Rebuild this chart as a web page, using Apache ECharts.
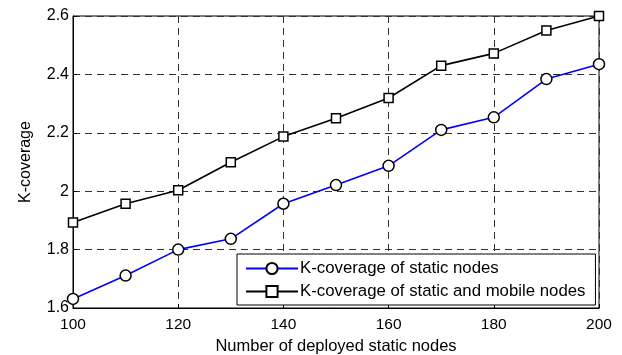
<!DOCTYPE html>
<html><head><meta charset="utf-8">
<script src="https://cdn.jsdelivr.net/npm/echarts@6/dist/echarts.min.js"></script>
<style>html,body{margin:0;padding:0;background:#fff}#c{width:622px;height:355px}</style>
</head><body><div id="c"></div>
<script>
const nodes = [100,110,120,130,140,150,160,170,180,190,200];
const staticCov = [1.631,1.711,1.80,1.837,1.957,2.021,2.087,2.21,2.253,2.384,2.435];
const mixedCov = [1.893,1.957,2.003,2.099,2.187,2.25,2.319,2.43,2.472,2.55,2.6];
const seriesNames = ['K-coverage of static nodes','K-coverage of static and mobile nodes'];
const F = 'Liberation Sans, Arial, sans-serif';
const chart = echarts.init(document.getElementById('c'));
const gridLine = {show:true, lineStyle:{color:'#333', type:[7,5], width:1}};
chart.setOption({
  animation:false,
  grid:{left:73, top:16, right:23, bottom:47, show:true, borderColor:'#000', borderWidth:1, backgroundColor:'transparent', containLabel:false, outerBoundsMode:'none'},
  legend:{
    orient:'vertical', left:237, top:254, width:359, height:49,
    backgroundColor:'#fff', borderColor:'#000', borderWidth:1,
    padding:[6,10,5,8], itemGap:6, itemWidth:52, itemHeight:14,
    textStyle:{fontFamily:F, fontSize:16.8, color:'#000', padding:[0,0,0,-3]},
    data:seriesNames
  },
  xAxis:{type:'value', min:100, max:200, interval:20,
    name:'Number of deployed static nodes', nameLocation:'middle', nameGap:29,
    nameTextStyle:{fontFamily:F, fontSize:16.5, color:'#000'},
    axisLine:{show:true, lineStyle:{color:'#000'}},
    axisTick:{show:true, inside:true, length:4, lineStyle:{color:'#000'}},
    axisLabel:{fontFamily:F, fontSize:15.5, color:'#000', margin:9},
    splitLine:gridLine},
  yAxis:{type:'value', min:1.6, max:2.6, interval:0.2,
    name:'K-coverage', nameLocation:'middle', nameGap:39,
    nameTextStyle:{fontFamily:F, fontSize:16, color:'#000'},
    axisLine:{show:true, lineStyle:{color:'#000'}},
    axisTick:{show:true, inside:true, length:4, lineStyle:{color:'#000'}},
    axisLabel:{fontFamily:F, fontSize:16, color:'#000', margin:4, formatter:v=>String(+v.toFixed(2))},
    splitLine:gridLine},
  series:[
    {name:seriesNames[0], type:'line', data:nodes.map((x,i)=>[x,staticCov[i]]),
     symbol:'circle', symbolSize:11, showAllSymbol:true,
     lineStyle:{color:'#0000ff', width:1.6},
     itemStyle:{color:'#fff', borderColor:'#000', borderWidth:1.5}},
    {name:seriesNames[1], type:'line', data:nodes.map((x,i)=>[x,mixedCov[i]]),
     symbol:'rect', symbolSize:9, showAllSymbol:true,
     lineStyle:{color:'#000', width:1.6},
     itemStyle:{color:'#fff', borderColor:'#000', borderWidth:1.5}}
  ]
});
</script></body></html>
